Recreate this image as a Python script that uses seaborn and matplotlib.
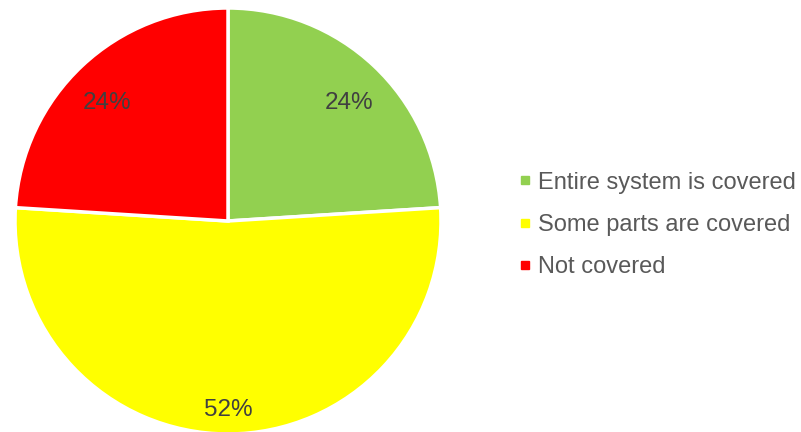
import matplotlib
matplotlib.use("Agg")
import matplotlib.pyplot as plt
from matplotlib.lines import Line2D
import seaborn as sns

labels = ["Entire system is covered", "Some parts are covered", "Not covered"]
shares = [24, 52, 24]
colors = ["#92D050", "#FFFF00", "#FF0000"]

sns.set_theme(style="white")
plt.rcParams['font.family'] = ['Liberation Sans', 'DejaVu Sans']

fig = plt.figure(figsize=(8.01, 4.32), dpi=100)
ax = fig.add_axes([15/801, -2/432, 426/801, 426/432])

wedges, texts, autotexts = ax.pie(shares, colors=colors, startangle=90, counterclock=False,
                                  autopct="%d%%", pctdistance=0.8,
                                  wedgeprops=dict(edgecolor="white", linewidth=2.5),
                                  textprops=dict(color="#404040", fontsize=17.5))
# labels sit slightly lower / further out than matplotlib's default
for t in autotexts:
    x, y = t.get_position()
    t.set_position((x * 1.04, y - 0.03))
autotexts[1].set_position((0, -0.885))
ax.set_aspect("equal")
ax.set_xlim(-1, 1)
ax.set_ylim(-1, 1)
ax.axis("off")

handles = [Line2D([], [], marker="s", linestyle="none", markersize=6,
                  markerfacecolor=c, markeredgecolor=c) for c in colors]
fig.legend(handles, labels, loc="center left", bbox_to_anchor=(508/801, 1 - 225/432),
           frameon=False, fontsize=17, labelcolor="#595959", handlelength=0.45,
           handletextpad=0.3, labelspacing=0.86, borderpad=0)

fig.savefig("out.png", dpi=100)
